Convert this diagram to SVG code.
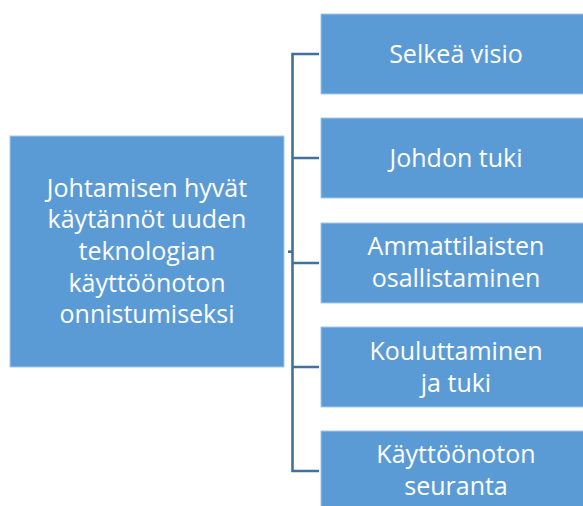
<svg xmlns="http://www.w3.org/2000/svg" width="583" height="506" viewBox="0 0 583 506">
<style>
.box{fill:#5B9BD5;stroke:#A8C8E8;stroke-width:1}
.t{fill:#FFFFFF;font-family:"Open Sans","Liberation Sans",Arial,sans-serif;font-size:25px;text-anchor:middle}
.c{fill:none;stroke:#41719C;stroke-width:2.6}
</style>
<rect width="583" height="506" fill="#FFFFFF"/>
<g id="connectors">
<path class="c" d="M319 54 H292.5 V471 H319"/>
<path class="c" d="M292.5 158 H319 M292.5 263 H319 M292.5 367 H319"/>
<path class="c" d="M288 251.7 H292.5"/>
</g>
<g id="root">
<rect class="box" x="10" y="136" width="274" height="231"/>
<text class="t" x="147" y="196.7">Johtamisen hyvät</text>
<text class="t" x="147" y="228.3">käytännöt uuden</text>
<text class="t" x="147" y="260">teknologian</text>
<text class="t" x="147" y="291.7">käyttöönoton</text>
<text class="t" x="147" y="323.3">onnistumiseksi</text>
</g>
<g id="n1">
<rect class="box" x="321" y="14" width="270" height="80"/>
<text class="t" x="456" y="63">Selkeä visio</text>
</g>
<g id="n2">
<rect class="box" x="321" y="118" width="270" height="80"/>
<text class="t" x="456" y="166.7">Johdon tuki</text>
</g>
<g id="n3">
<rect class="box" x="321" y="223" width="270" height="80"/>
<text class="t" x="456" y="255">Ammattilaisten</text>
<text class="t" x="456" y="286.7">osallistaminen</text>
</g>
<g id="n4">
<rect class="box" x="321" y="327" width="270" height="80"/>
<text class="t" x="456" y="360">Kouluttaminen</text>
<text class="t" x="456" y="391.7">ja tuki</text>
</g>
<g id="n5">
<rect class="box" x="321" y="431" width="270" height="80"/>
<text class="t" x="456" y="463.3">Käyttöönoton</text>
<text class="t" x="456" y="495">seuranta</text>
</g>
</svg>
